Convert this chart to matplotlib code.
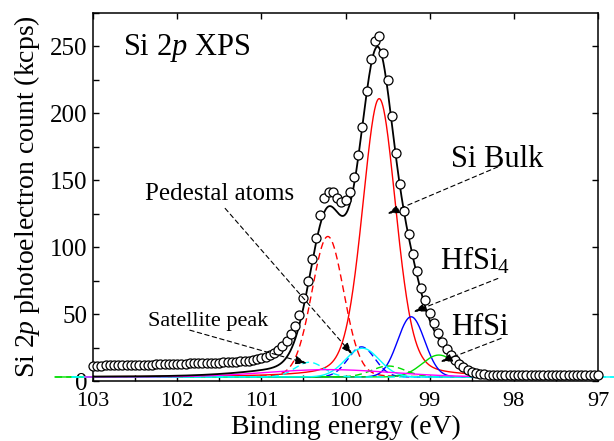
import numpy as np
import matplotlib
matplotlib.use('Agg')
import matplotlib.pyplot as plt
from matplotlib.ticker import MultipleLocator

plt.rcParams['font.family'] = 'Liberation Serif'
plt.rcParams['mathtext.fontset'] = 'custom'
plt.rcParams['mathtext.rm'] = 'Liberation Serif'
plt.rcParams['mathtext.it'] = 'Liberation Serif:italic'

# measured Si 2p counts (kcps), 103.00 -> 97.00 eV, 0.05 eV step
energy = np.round(np.arange(103.0, 96.999, -0.05), 2)
counts = [
    11.3, 11.5, 11.4, 11.6, 11.7, 11.6, 11.8, 11.9, 11.8, 12.0,
    12.1, 12.0, 12.2, 12.3, 12.2, 12.4, 12.5, 12.5, 12.6, 12.7,
    12.8, 12.9, 13.0, 13.1, 13.2, 13.3, 13.4, 13.5, 13.6, 13.7,
    13.8, 14.0, 14.1, 14.3, 14.4, 14.6, 14.9, 15.2, 15.7, 16.3,
    17.0, 18.1, 19.4, 21.1, 23.1, 26.1, 29.9, 35.1, 41.3, 49.3,
    61.7, 74.9, 91.5, 107.2, 123.9, 137.0, 141.0, 141.0, 137.0, 134.0,
    135.0, 141.0, 152.5, 169.0, 190.0, 216.6, 240.8, 254.0, 257.5, 245.0,
    225.0, 197.8, 170.4, 147.5, 127.3, 110.0, 94.8, 82.0, 69.6, 60.4,
    51.0, 43.0, 36.0, 29.3, 23.9, 19.4, 15.7, 12.7, 10.2, 8.2,
    6.7, 5.7, 5.2, 4.9, 4.7, 4.6, 4.5, 4.5, 4.4, 4.5,
    4.4, 4.5, 4.4, 4.4, 4.5, 4.4, 4.4, 4.5, 4.4, 4.4,
    4.5, 4.4, 4.4, 4.4, 4.5, 4.4, 4.4, 4.4, 4.5, 4.4,
    4.4,
]

# fitted components
background = 3.0
peak_center = [99.60, 100.21, 99.22, 99.81, 98.89, 99.49, 99.80, 100.43, 100.20]
peak_height = [208.0, 105.0, 45.0, 22.5, 16.4, 8.2, 21.5, 11.0, 5.5]
peak_sigma = [0.20, 0.19, 0.16, 0.16, 0.20, 0.20, 0.20, 0.17, 0.75]
peak_lorentz = [0.25, 0.08, 0.0, 0.0, 0.0, 0.0, 0.0, 0.0, 0.0]

peak_color = ['red', 'red', 'blue', 'blue', '#00dd00', '#00dd00', 'cyan', 'cyan', 'magenta']
peak_style = ['-', '--', '-', '--', '-', '--', '-', '--', '-']
peak_range = [(103.0, 97.0), (103.0, 97.0), (103.0, 97.0), (103.0, 97.0),
              (103.45, 97.0), (103.45, 97.0), (103.25, 96.8), (103.25, 96.8), (103.1, 97.0)]


def pseudo_voigt(x, c, h, s, eta):
    g = np.exp(-(x - c) ** 2 / (2 * s * s))
    gam = s * 1.1774
    l = gam ** 2 / ((x - c) ** 2 + gam ** 2)
    return h * ((1 - eta) * g + eta * l)


size = 614, 441
dpi = 100.0
fig = plt.figure(figsize=(size[0] / dpi, size[1] / dpi), dpi=dpi, facecolor='white')
ax = fig.add_axes([93 / 614, 60 / 441, 505 / 614, 368 / 441])

grid = np.linspace(103.45, 96.8, 1331)
total = np.full_like(grid, background)
for i in range(len(peak_center)):
    y = pseudo_voigt(grid, peak_center[i], peak_height[i], peak_sigma[i], peak_lorentz[i])
    total += y
    lo, hi = peak_range[i]
    m = (grid <= lo) & (grid >= hi)
    ls = peak_style[i]
    kw = dict(dashes=(5, 3)) if ls == '--' else {}
    ax.plot(grid[m], y[m] + background, color=peak_color[i], lw=1.0,
            linestyle=ls, clip_on=False, zorder=2, **kw)

m = (grid <= 103.0) & (grid >= 97.0)
ax.plot(grid[m], total[m], color='black', lw=1.3, zorder=3)
ax.plot(energy, counts, 'o', ms=6.5, mfc='white', mec='black', mew=0.9, zorder=4, clip_on=False)

ax.set_xlim(103, 97)
ax.set_ylim(0, 275)
ax.xaxis.set_major_locator(MultipleLocator(1))
ax.xaxis.set_minor_locator(MultipleLocator(0.5))
ax.yaxis.set_major_locator(MultipleLocator(50))
ax.yaxis.set_minor_locator(MultipleLocator(25))
ax.tick_params(which='both', direction='in', top=True, right=True, width=1.0)
ax.tick_params(which='major', length=4.5)
ax.tick_params(which='minor', length=4, top=False, right=False)
ax.tick_params(axis='x', labelsize=16, pad=8)
ax.tick_params(axis='y', labelsize=18, pad=4)
for s in ax.spines.values():
    s.set_linewidth(1.1)

ax.set_xlabel('Binding energy (eV)', fontsize=20, labelpad=3)
ax.set_ylabel(r'Si 2$p$ photoelectron count (kcps)', fontsize=20, labelpad=6)

ax.text(102.64, 243.3, r'Si 2$p$ XPS', fontsize=22, ha='left', va='baseline')
ax.text(102.38, 135, 'Pedestal atoms', fontsize=18, ha='left', va='baseline')
ax.text(98.75, 160, 'Si Bulk', fontsize=22, ha='left', va='baseline')
ax.text(98.88, 83.3, r'HfSi$_4$', fontsize=22, ha='left', va='baseline')
ax.text(98.75, 34.3, 'HfSi', fontsize=22, ha='left', va='baseline')
ax.text(102.345, 41, 'Satellite peak', fontsize=16, ha='left', va='baseline')

arrows = [((101.43, 129), (99.92, 20)),
          ((98.19, 160), (99.50, 125)),
          ((98.19, 76.6), (99.19, 51.7)),
          ((98.15, 31.9), (98.87, 14.4)),
          ((101.85, 38), (100.46, 13.2))]
for start, end in arrows:
    ax.annotate('', xy=end, xytext=start,
                arrowprops=dict(arrowstyle='-|>,head_length=0.7,head_width=0.25',
                                linestyle=(0, (4, 3)), lw=0.8, color='black',
                                shrinkA=0, shrinkB=0), zorder=5)

fig.savefig('out.png', dpi=dpi)
